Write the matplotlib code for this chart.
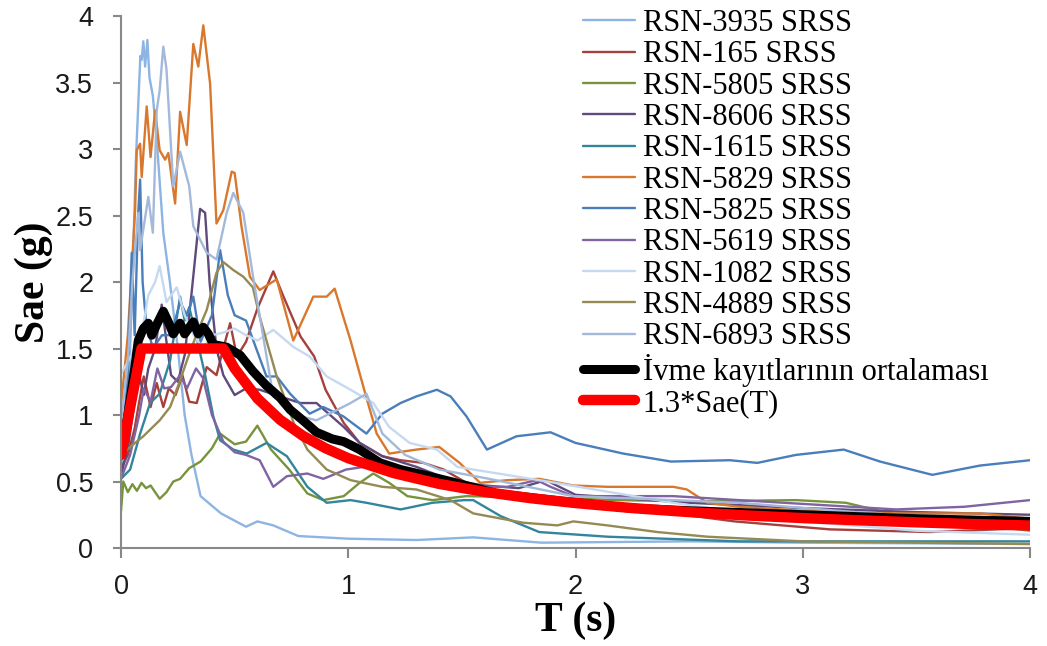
import matplotlib
matplotlib.use("Agg")
import matplotlib.pyplot as plt

# Response spectra of the selected records (T in s, Sae in g)
t_3935 = [0, 0.03, 0.05, 0.065, 0.075, 0.085, 0.091, 0.098, 0.106, 0.116, 0.125, 0.14, 0.157, 0.186,
          0.215, 0.25, 0.28, 0.31, 0.35, 0.44, 0.55, 0.6, 0.67, 0.78, 1.0, 1.3, 1.55, 1.85, 2.5, 3.0, 4.0]
sa_3935 = [0.6, 1.0, 2.0, 2.9, 3.3, 3.7, 3.67, 3.81, 3.62, 3.82, 3.54, 3.4, 3.07, 2.37,
           2.0, 1.5, 1.0, 0.7, 0.39, 0.26, 0.16, 0.2, 0.17, 0.09, 0.07, 0.06, 0.08, 0.04, 0.05, 0.04, 0.03]

t_165 = [0, 0.03, 0.06, 0.08, 0.1, 0.13, 0.157, 0.186, 0.21, 0.24, 0.27, 0.3, 0.333, 0.377, 0.42,
         0.45, 0.48, 0.51, 0.55, 0.6, 0.64, 0.67, 0.71, 0.79, 0.85, 0.9, 0.98, 1.05, 1.15, 1.23, 1.33,
         1.42, 1.52, 1.62, 2.0, 2.43, 2.7, 3.12, 3.56, 4.0]
sa_165 = [0.6, 0.7, 0.9, 1.1, 1.29, 1.06, 1.24, 1.06, 1.2, 1.15, 1.3, 1.1, 1.09, 1.36, 1.3,
          1.5, 1.69, 1.44, 1.55, 1.8, 1.96, 2.08, 1.91, 1.59, 1.44, 1.19, 0.94, 0.79, 0.69, 0.66, 0.64,
          0.59, 0.49, 0.41, 0.34, 0.26, 0.2, 0.14, 0.12, 0.15]

t_5805 = [0, 0.01, 0.03, 0.05, 0.07, 0.09, 0.11, 0.13, 0.15, 0.17, 0.2, 0.23, 0.26, 0.3, 0.35, 0.4,
          0.436, 0.5, 0.55, 0.6, 0.66, 0.74, 0.82, 0.89, 0.98, 1.05, 1.11, 1.18, 1.26, 1.37, 1.52,
          1.8, 2.2, 2.5, 2.97, 3.19, 3.41, 3.7, 4.0]
sa_5805 = [0.28, 0.5, 0.42, 0.48, 0.43, 0.49, 0.45, 0.47, 0.42, 0.37, 0.42, 0.5, 0.52, 0.6, 0.65, 0.75,
           0.86, 0.78, 0.8, 0.92, 0.74, 0.59, 0.41, 0.36, 0.39, 0.49, 0.56, 0.49, 0.39, 0.36, 0.39,
           0.38, 0.36, 0.35, 0.36, 0.34, 0.25, 0.19, 0.13]

t_8606 = [0, 0.03, 0.06, 0.08, 0.1, 0.12, 0.15, 0.179, 0.2, 0.22, 0.25, 0.28, 0.31, 0.348, 0.37, 0.39,
          0.42, 0.45, 0.5, 0.55, 0.61, 0.68, 0.79, 0.86, 0.98, 1.05, 1.15, 1.3, 1.45, 1.6, 1.75, 1.87,
          2.0, 2.5, 3.0, 3.5, 4.0]
sa_8606 = [0.55, 0.75, 1.1, 1.3, 1.15, 1.35, 1.5, 1.83, 1.55, 1.3, 1.25, 1.45, 1.91, 2.55, 2.52, 1.99,
           1.5, 1.3, 1.15, 1.2, 1.19, 1.15, 1.09, 1.09, 0.91, 0.79, 0.69, 0.61, 0.51, 0.47, 0.45, 0.51,
           0.4, 0.34, 0.3, 0.27, 0.25]

t_1615 = [0, 0.04, 0.084, 0.128, 0.17, 0.216, 0.26, 0.28, 0.3, 0.33, 0.37, 0.406, 0.436, 0.494, 0.553,
          0.64, 0.73, 0.82, 0.905, 1.01, 1.08, 1.23, 1.37, 1.51, 1.55, 1.67, 1.84, 2.14, 2.72, 3.5, 4.0]
sa_1615 = [0.52, 0.59, 0.86, 1.09, 1.16, 1.41, 1.89, 1.71, 1.81, 1.6, 1.3, 0.99, 0.81, 0.74, 0.71,
           0.79, 0.69, 0.46, 0.34, 0.36, 0.34, 0.29, 0.34, 0.36, 0.36, 0.24, 0.12, 0.085, 0.05, 0.05, 0.05]

t_5829 = [0, 0.03, 0.062, 0.069, 0.084, 0.091, 0.113, 0.13, 0.15, 0.17, 0.194, 0.208, 0.238, 0.26,
          0.289, 0.318, 0.34, 0.362, 0.392, 0.42, 0.45, 0.487, 0.5, 0.53, 0.567, 0.61, 0.685, 0.758,
          0.846, 0.905, 0.94, 1.01, 1.07, 1.125, 1.18, 1.3, 1.4, 1.49, 1.58, 1.7, 1.84, 1.99, 2.14,
          2.43, 2.49, 2.58, 2.72, 3.0, 3.34, 3.78, 4.0]
sa_5829 = [1.07, 1.6, 2.54, 2.99, 3.04, 2.79, 3.32, 2.94, 3.29, 2.99, 2.92, 2.97, 2.59, 3.28,
           3.03, 3.79, 3.62, 3.93, 3.49, 2.44, 2.54, 2.83, 2.82, 2.42, 2.04, 1.94, 2.02, 1.56,
           1.89, 1.89, 1.95, 1.56, 1.19, 0.86, 0.71, 0.74, 0.76, 0.64, 0.49, 0.51, 0.52, 0.47, 0.46,
           0.46, 0.44, 0.34, 0.31, 0.28, 0.26, 0.26, 0.22]

t_5825 = [0, 0.03, 0.047, 0.06, 0.075, 0.084, 0.095, 0.11, 0.14, 0.18, 0.22, 0.26, 0.29, 0.318, 0.35,
          0.4, 0.436, 0.47, 0.5, 0.55, 0.597, 0.64, 0.685, 0.744, 0.83, 0.89, 0.978, 1.08, 1.15, 1.23,
          1.3, 1.39, 1.45, 1.52, 1.61, 1.74, 1.89, 2.0, 2.21, 2.42, 2.68, 2.8, 2.97, 3.18, 3.34, 3.57,
          3.78, 4.0]
sa_5825 = [0.7, 1.3, 2.22, 1.6, 2.5, 2.77, 2.0, 1.7, 1.5, 1.6, 1.6, 1.85, 1.75, 1.89, 1.55,
           1.75, 2.24, 1.9, 1.75, 1.71, 1.49, 1.29, 1.29, 1.16, 1.01, 1.06, 0.99, 0.86, 1.01, 1.09,
           1.14, 1.19, 1.14, 0.99, 0.74, 0.84, 0.87, 0.79, 0.71, 0.65, 0.66, 0.64, 0.7, 0.74, 0.65, 0.55,
           0.62, 0.66]

t_5619 = [0, 0.04, 0.08, 0.1, 0.13, 0.16, 0.19, 0.22, 0.26, 0.29, 0.33, 0.36, 0.4, 0.45, 0.5, 0.55,
          0.61, 0.67, 0.73, 0.82, 0.89, 0.99, 1.07, 1.2, 1.4, 1.55, 1.7, 1.83, 1.89, 1.99, 2.43, 2.72,
          3.41, 3.71, 4.0]
sa_5619 = [0.52, 0.7, 1.0, 1.2, 1.1, 1.35, 1.2, 1.21, 1.3, 1.2, 1.35, 1.28, 1.0, 0.8, 0.72, 0.7,
           0.66, 0.46, 0.54, 0.56, 0.52, 0.59, 0.61, 0.55, 0.5, 0.46, 0.46, 0.51, 0.46, 0.39, 0.39, 0.36,
           0.29, 0.31, 0.36]

t_1082 = [0, 0.03, 0.06, 0.09, 0.12, 0.15, 0.17, 0.2, 0.245, 0.28, 0.32, 0.36, 0.4, 0.45, 0.5, 0.55,
          0.6, 0.67, 0.76, 0.83, 0.905, 1.01, 1.11, 1.18, 1.27, 1.39, 1.48, 1.55, 1.84, 2.43, 3.0, 3.5,
          4.0]
sa_1082 = [1.31, 1.4, 1.5, 1.6, 1.9, 2.0, 2.12, 1.85, 1.96, 1.75, 1.6, 1.5, 1.6, 1.62, 1.65, 1.6,
           1.56, 1.64, 1.51, 1.44, 1.29, 1.19, 1.09, 0.91, 0.79, 0.74, 0.61, 0.59, 0.51, 0.34, 0.2, 0.13,
           0.1]

t_4889 = [0, 0.01, 0.04, 0.098, 0.17, 0.216, 0.26, 0.29, 0.333, 0.377, 0.42, 0.45, 0.494, 0.538, 0.58,
          0.61, 0.685, 0.76, 0.82, 0.905, 1.01, 1.15, 1.3, 1.45, 1.55, 1.77, 1.92, 1.99, 2.14, 2.36,
          2.58, 3.0, 3.5, 4.0]
sa_4889 = [0.7, 0.71, 0.76, 0.84, 0.96, 1.06, 1.26, 1.41, 1.61, 1.79, 2.07, 2.15, 2.09, 2.04, 1.96,
           1.74, 1.29, 0.94, 0.74, 0.59, 0.51, 0.46, 0.44, 0.36, 0.26, 0.19, 0.17, 0.2, 0.17, 0.12,
           0.085, 0.05, 0.04, 0.03]

t_6893 = [0, 0.03, 0.05, 0.076, 0.084, 0.12, 0.14, 0.157, 0.17, 0.186, 0.2, 0.23, 0.26, 0.3, 0.318,
          0.377, 0.42, 0.465, 0.494, 0.538, 0.58, 0.67, 0.79, 0.86, 1.01, 1.08, 1.15, 1.25, 1.4, 1.62,
          1.99, 2.72, 3.3, 4.0]
sa_6893 = [0.95, 1.4, 2.0, 2.52, 2.24, 2.64, 2.37, 3.29, 3.44, 3.77, 3.6, 2.72, 2.98, 2.72, 2.42,
           2.22, 2.17, 2.52, 2.67, 2.52, 2.05, 1.14, 0.99, 0.96, 1.09, 1.16, 0.86, 0.7, 0.59, 0.52,
           0.39, 0.34, 0.26, 0.2]

# Mean of the records
t_mean = [0, 0.03, 0.06, 0.076, 0.098, 0.12, 0.135, 0.157, 0.186, 0.208, 0.23, 0.26, 0.28, 0.318,
          0.34, 0.362, 0.384, 0.406, 0.465, 0.524, 0.58, 0.64, 0.7, 0.744, 0.8, 0.86, 0.93, 0.98,
          1.05, 1.14, 1.23, 1.33, 1.45, 1.54, 1.65, 1.8, 1.95, 2.24, 2.5, 3.0, 3.5, 4.0]
sa_mean = [0.7, 1.0, 1.35, 1.56, 1.65, 1.69, 1.6, 1.68, 1.78, 1.7, 1.61, 1.69, 1.61, 1.7,
           1.61, 1.66, 1.61, 1.53, 1.51, 1.45, 1.33, 1.22, 1.13, 1.04, 0.96, 0.87, 0.82, 0.8,
           0.74, 0.64, 0.59, 0.55, 0.5, 0.46, 0.41, 0.38, 0.35, 0.3, 0.28, 0.25, 0.22, 0.2]

# 1.3 x design spectrum
t_design = [0, 0.09, 0.45, 0.5, 0.6, 0.7, 0.8, 0.9, 1.0, 1.2, 1.4, 1.6, 1.8, 2.0, 2.25, 2.5, 2.75,
            3.0, 3.25, 3.5, 3.75, 4.0]
sa_design = [0.7, 1.5, 1.5, 1.35, 1.125, 0.964, 0.844, 0.75, 0.675, 0.563, 0.482, 0.422, 0.375,
             0.338, 0.3, 0.27, 0.245, 0.225, 0.208, 0.193, 0.18, 0.169]

records = [
    ("RSN-3935 SRSS", t_3935, sa_3935, "#8db4e2"),
    ("RSN-165 SRSS", t_165, sa_165, "#a5403d"),
    ("RSN-5805 SRSS", t_5805, sa_5805, "#77933c"),
    ("RSN-8606 SRSS", t_8606, sa_8606, "#604a7b"),
    ("RSN-1615 SRSS", t_1615, sa_1615, "#31859c"),
    ("RSN-5829 SRSS", t_5829, sa_5829, "#d9782d"),
    ("RSN-5825 SRSS", t_5825, sa_5825, "#4a7ebb"),
    ("RSN-5619 SRSS", t_5619, sa_5619, "#8064a2"),
    ("RSN-1082 SRSS", t_1082, sa_1082, "#c6d9f1"),
    ("RSN-4889 SRSS", t_4889, sa_4889, "#948a54"),
    ("RSN-6893 SRSS", t_6893, sa_6893, "#a3b9da"),
]

fig = plt.figure(figsize=(10.47, 6.46), dpi=100)
ax = fig.add_axes([0.1156, 0.1517, 0.8682, 0.8235])

for name, t, sa, c in records:
    ax.plot(t, sa, color=c, lw=1.7, label=name, solid_capstyle="round", solid_joinstyle="round")
ax.plot(t_mean, sa_mean, color="black", lw=6.5, label="İvme kayıtlarının ortalaması",
        solid_capstyle="round", solid_joinstyle="round")
ax.plot(t_design, sa_design, color="#ff0000", lw=7.5, label="1.3*Sae(T)",
        solid_capstyle="round", solid_joinstyle="round")

ax.set_xlim(0, 4)
ax.set_ylim(0, 4)
ax.set_xticks([0, 1, 2, 3, 4])
ax.set_yticks([0, 0.5, 1, 1.5, 2, 2.5, 3, 3.5, 4])
ax.set_yticklabels(["0", "0.5", "1", "1.5", "2", "2.5", "3", "3.5", "4"])

for side in ["top", "right"]:
    ax.spines[side].set_visible(False)
for side in ["left", "bottom"]:
    ax.spines[side].set_color("#888888")
    ax.spines[side].set_linewidth(1.5)
ax.tick_params(axis="both", colors="#888888", width=1.5, labelcolor="#1a1a1a",
               labelsize=19.5)
ax.tick_params(axis="y", length=6, pad=14)
ax.tick_params(axis="x", length=7, pad=12)
for lab in ax.get_xticklabels() + ax.get_yticklabels():
    lab.set_family("Liberation Sans")

ax.set_xlabel("T (s)", family="Liberation Serif", fontweight="bold", fontsize=30, labelpad=1)
ax.set_ylabel("Sae (g)", family="Liberation Serif", fontweight="bold", fontsize=30, labelpad=2)

ax.legend(loc="upper left", bbox_to_anchor=(583 / 1047, 1 - 9 / 646),
          bbox_transform=fig.transFigure, frameon=False, borderpad=0, borderaxespad=0,
          prop={"family": "Liberation Serif", "size": 22}, labelspacing=0.076,
          handlelength=1.7, handletextpad=0.25)

fig.savefig("out.png", dpi=100)
